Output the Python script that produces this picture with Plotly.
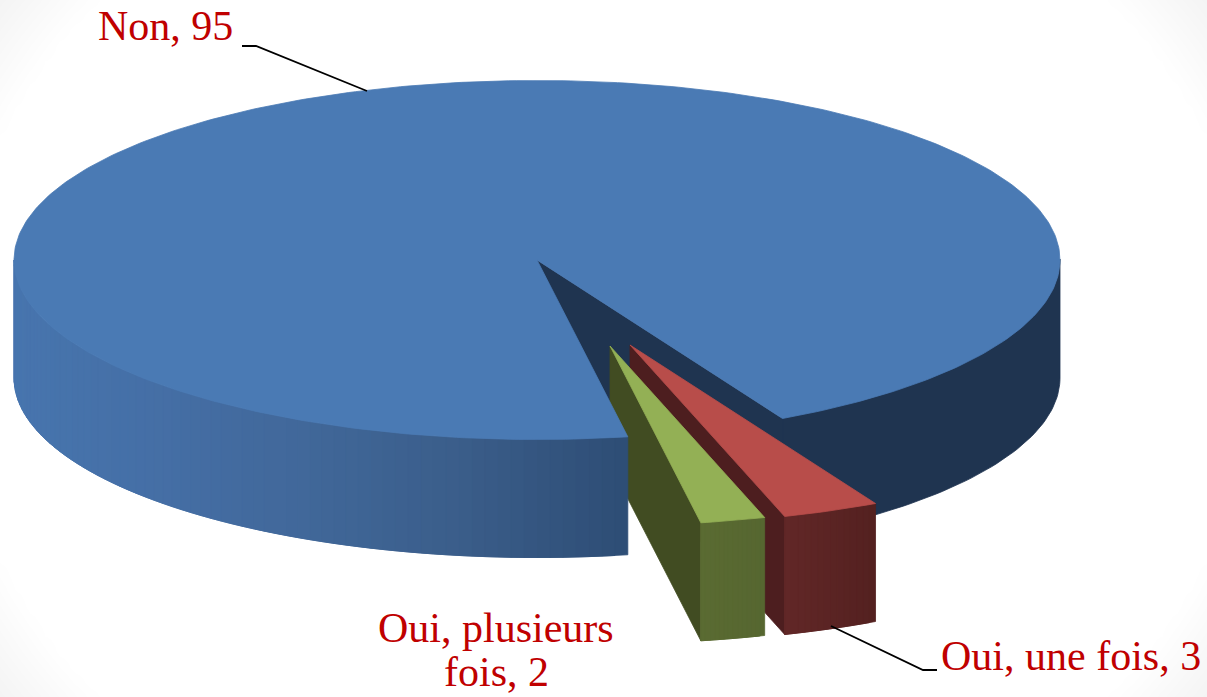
import numpy as np
import plotly.graph_objects as go

# --- data ---
categories = ["Non", "Oui, une fois", "Oui, plusieurs fois"]
values = [95, 3, 2]
label_non = "Non, 95"
label_une = "Oui, une fois, 3"
label_plus_1 = "Oui, plusieurs"
label_plus_2 = "fois, 2"

# --- style / geometry ---
W, H = 1207, 697
CX, CY, RX, RY, DEPTH = 537.0, 260.0, 523.0, 179.5, 118.0
START = 80.0
EXPLODE = {"Non": (0, 0), "Oui, une fois": (93, 85), "Oui, plusieurs fois": (73, 86)}
TOP = {"Non": "#4a7ab4", "Oui, une fois": "#b84d4a", "Oui, plusieurs fois": "#93b055"}
FACE = {"Non": "#1f3450", "Oui, une fois": "#4d1e1f", "Oui, plusieurs fois": "#414c22"}
WALL_STOPS = {
    "Oui, une fois": [(0, "#622727"), (1, "#532120")],
    "Oui, plusieurs fois": [(0, "#5a6b32"), (1, "#566630")],
}
LEFT_WALL = [(14, "#4775ae"), (150, "#456fa6"), (300, "#41689a"), (450, "#3b5e8b"), (628, "#2e4d75")]
TEXT_RED = "#c00000"

fig = go.Figure()


def hex2rgb(c):
    return np.array([int(c[i:i + 2], 16) for i in (1, 3, 5)], float)


def mix(stops, v):
    xs = [s[0] for s in stops]
    rgb = [np.interp(v, xs, [hex2rgb(s[1])[k] for s in stops]) for k in range(3)]
    return "rgb(%d,%d,%d)" % tuple(round(c) for c in rgb)


def poly(x, y, color):
    x, y = list(x), list(y)
    x.append(x[0])
    y.append(y[0])
    fig.add_trace(go.Scatter(x=x, y=y, mode="lines", fill="toself", fillcolor=color,
                             line=dict(width=0.8, color=color), hoverinfo="skip", showlegend=False))


def rim(t, dx=0, dy=0):
    r = np.radians(t)
    return CX + dx + RX * np.cos(r), CY + dy + RY * np.sin(r)


def wall(t0, t1, dx, dy, colorfn, n):
    edges = np.linspace(t0, t1, n + 1)
    for i in range(n):
        a, b = edges[i], edges[min(i + 2, n)]
        ts = np.linspace(a, b, 5)
        x, y = rim(ts, dx, dy)
        poly(np.r_[x, x[::-1]], np.r_[y, y[::-1] + DEPTH], colorfn((edges[i] + edges[i + 1]) / 2))


# slice angle ranges, clockwise on screen from START
spans = {}
a = START
for cat, val in zip(categories, values):
    b = a + 360.0 * val / sum(values)
    spans[cat] = (a, b)
    a = b

# background vignette (only the corners are tinted)
gx = np.linspace(0, W, 81)
gy = np.linspace(0, H, 47)
gxx, gyy = np.meshgrid(gx, gy)
d = np.sqrt(((gxx - W / 2) / 415.0) ** 2 + ((gyy - H / 2) / (H / 2)) ** 2)
fig.add_trace(go.Heatmap(x=gx, y=gy, z=np.clip((d - 1.57) / 0.19, 0, 1), zmin=0, zmax=1, zsmooth="best",
                         colorscale=[[0, "#ffffff"], [1, "#f4f4f4"]], showscale=False, hoverinfo="skip"))

# big slice: back parts
b0, b1 = spans["Non"]
end = b1 % 360
x, y = rim(np.linspace(0, end + 0.5, 60))
poly(np.r_[x, x[::-1]], np.r_[y - 1, y[::-1] + DEPTH], FACE["Non"])
ex, ey = rim(end)
poly([CX, ex, ex, CX], [CY, ey, ey + DEPTH, CY + DEPTH], FACE["Non"])

# exploded slices: red first, then green
for cat in ["Oui, une fois", "Oui, plusieurs fois"]:
    dx, dy = EXPLODE[cat]
    t0, t1 = spans[cat]
    lx, ly = rim(t1, dx, dy)
    ax, ay = CX + dx, CY + dy
    poly([ax, lx, lx, ax], [ay, ly, ly + DEPTH, ay + DEPTH], FACE[cat])
    stops = WALL_STOPS[cat]
    wall(t0, t1, dx, dy, lambda t, s=stops, t0=t0, t1=t1: mix(s, (t1 - t) / (t1 - t0)), 14)
    tx, ty = rim(np.linspace(t0, t1, 12), dx, dy)
    poly(np.r_[ax, tx], np.r_[ay, ty], TOP[cat])

# big slice: front-left wall and top
wall(b0, 180, 0, 0, lambda t: mix(LEFT_WALL, rim(t)[0]), 70)
tx, ty = rim(np.linspace(b0, b1, 400))
poly(np.r_[CX, tx], np.r_[CY, ty], TOP["Non"])

# leader lines
fig.add_trace(go.Scatter(x=[242, 256, 367], y=[46, 46, 91], mode="lines", line=dict(color="#000000", width=1.8),
                         hoverinfo="skip", showlegend=False))
fig.add_trace(go.Scatter(x=[831, 923, 937], y=[626, 670, 670], mode="lines", line=dict(color="#000000", width=1.8),
                         hoverinfo="skip", showlegend=False))

# labels
font = dict(family="Liberation Serif", size=42, color=TEXT_RED)
fig.add_annotation(x=98, y=26, text=label_non, xanchor="left", yanchor="middle")
fig.add_annotation(x=941, y=656, text=label_une, xanchor="left", yanchor="middle")
fig.add_annotation(x=496, y=628, text=label_plus_1, xanchor="center", yanchor="middle")
fig.add_annotation(x=496, y=672, text=label_plus_2, xanchor="center", yanchor="middle")
fig.update_annotations(showarrow=False, font=font, xref="x", yref="y", borderpad=0, borderwidth=0)

fig.update_layout(
    width=W, height=H, margin=dict(l=0, r=0, t=0, b=0), autosize=False,
    paper_bgcolor="#ffffff", plot_bgcolor="#ffffff", showlegend=False,
    xaxis=dict(range=[0, W], visible=False, fixedrange=True),
    yaxis=dict(range=[H, 0], visible=False, fixedrange=True),
)
fig.write_html("out.html", config={"displayModeBar": False},
               post_script="document.body.style.margin='0';document.documentElement.style.overflow='hidden';")
